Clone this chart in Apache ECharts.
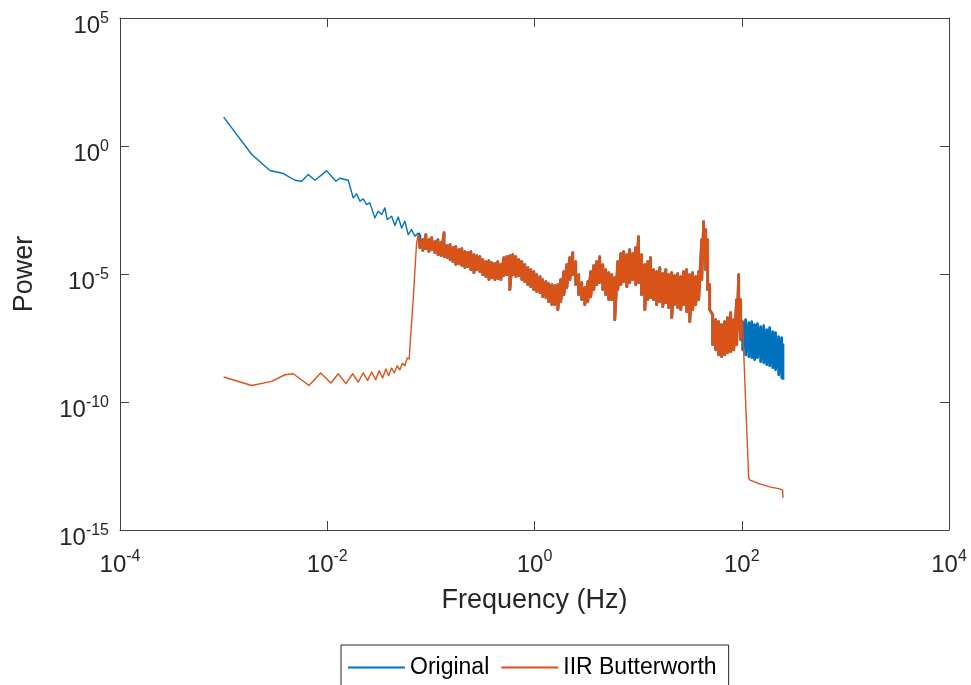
<!DOCTYPE html>
<html><head><meta charset="utf-8">
<script src="https://cdn.jsdelivr.net/npm/echarts@6/dist/echarts.min.js"></script>
<style>html,body{margin:0;padding:0;background:#fff}#c{width:971px;height:685px}</style>
</head><body><div id="c"></div>
<script>
const seriesNames = ['Original', 'IIR Butterworth'];
const xTitle = 'Frequency (Hz)';
const yTitle = 'Power';

// Original signal, low-frequency part (Hz, power)
const origLowFreq = [0.001, 0.00187, 0.0028, 0.00377, 0.00488, 0.00566, 0.00656, 0.0076, 0.00987, 0.01213, 0.01326, 0.01594, 0.0178, 0.0192, 0.0207, 0.0222, 0.024, 0.0258, 0.0288, 0.031, 0.0335, 0.036, 0.0379, 0.0418, 0.045, 0.0484, 0.0522, 0.0561, 0.0604, 0.0651, 0.0701, 0.0754];
const origLowPower = [13.4, 0.465, 0.11, 0.084, 0.046, 0.042, 0.0769, 0.046, 0.107, 0.042, 0.055, 0.046, 0.00944, 0.0135, 0.00695, 0.0086, 0.00516, 0.006, 0.00156, 0.00282, 0.0021, 0.00384, 0.00134, 0.0018, 0.00078, 0.0017, 0.00063, 0.00115, 0.000347, 0.000543, 0.000297, 0.000404];

// Filtered signal, stop band below cutoff
const filtLowFreq = [0.001, 0.00187, 0.00291, 0.00391, 0.0047, 0.00667, 0.00864, 0.01086, 0.01277, 0.01514, 0.01758, 0.0199, 0.0222, 0.0245, 0.0268, 0.0293, 0.0317, 0.0342, 0.0368, 0.0391, 0.0418, 0.0443, 0.0473, 0.0502, 0.0533, 0.0561, 0.0591, 0.0618, 0.0627, 0.0675, 0.0728, 0.0754];
const filtLowPower = [9.5e-10, 4.4e-10, 6.4e-10, 1.16e-9, 1.27e-9, 4.4e-10, 1.36e-9, 5.5e-10, 1.27e-9, 5.2e-10, 1.27e-9, 6.0e-10, 1.36e-9, 7.0e-10, 1.48e-9, 7.4e-10, 1.67e-9, 8.6e-10, 1.94e-9, 1.06e-9, 2.12e-9, 1.36e-9, 2.6e-9, 1.82e-9, 3.3e-9, 2.6e-9, 5.2e-9, 4.8e-9, 1.29e-8, 1.0e-6, 1.64e-4, 3.2e-4];

// Pass band (shared), noisy: upper / lower envelope
const bandFreq = [0.0783, 0.0837, 0.0895, 0.0956, 0.102, 0.109, 0.117, 0.125, 0.134, 0.143, 0.153, 0.163, 0.174, 0.186, 0.199, 0.213, 0.227, 0.243, 0.260, 0.278, 0.297, 0.317, 0.339, 0.363, 0.388, 0.414, 0.443, 0.473, 0.506, 0.541, 0.578, 0.618, 0.660, 0.706, 0.754, 0.806, 0.862, 0.921, 0.985, 1.05, 1.13, 1.20, 1.29, 1.37, 1.47, 1.57, 1.68, 1.79, 1.92, 2.05, 2.19, 2.34, 2.50, 2.67, 2.86, 3.06, 3.27, 3.49, 3.73, 3.99, 4.26, 4.56, 4.87, 5.21, 5.57, 5.95, 6.36, 6.80, 7.26, 7.77, 8.30, 8.87, 9.48, 10.1, 10.8, 11.6, 12.4, 13.2, 14.1, 15.1, 16.2, 17.3, 18.5, 19.7, 21.1, 22.5, 24.1, 25.8, 27.5, 29.4, 31.5, 33.6, 35.9, 38.4, 41.1, 42.9, 44.9, 46.9, 49.0, 52.4, 56.0, 59.9, 64.0, 68.4, 73.1, 78.2, 83.6, 89.3, 93.4, 97.6];
const bandUpper = [3.17e-4, 2.21e-4, 3.46e-4, 2.21e-4, 2.64e-4, 1.84e-4, 2.21e-4, 1.69e-4, 4.15e-4, 1.29e-4, 1.41e-4, 1.07e-4, 1.18e-4, 8.97e-5, 9.8e-5, 7.5e-5, 6.85e-5, 7.5e-5, 5.72e-5, 5.23e-5, 4.78e-5, 3.65e-5, 3.05e-5, 3.33e-5, 2.78e-5, 2.54e-5, 3.05e-5, 2.33e-5, 4.37e-5, 4.78e-5, 5.23e-5, 5.72e-5, 4.78e-5, 3.65e-5, 3.05e-5, 2.33e-5, 1.78e-5, 1.48e-5, 1.24e-5, 9.45e-6, 7.9e-6, 6.03e-6, 5.03e-6, 4.2e-6, 3.84e-6, 3.51e-6, 3.84e-6, 6.03e-6, 1.24e-5, 2.33e-5, 4.37e-5, 6.85e-5, 3.05e-5, 9.45e-6, 4.6e-6, 2.93e-6, 5.03e-6, 1.24e-5, 2.13e-5, 3.05e-5, 4.78e-5, 2.33e-5, 1.48e-5, 1.13e-5, 9.45e-6, 7.2e-6, 3.05e-5, 6.26e-5, 7.5e-5, 5.72e-5, 8.97e-5, 6.26e-5, 1.07e-4, 2.89e-4, 5.72e-5, 2.33e-5, 3.05e-5, 4.37e-5, 1.48e-5, 1.24e-5, 1.78e-5, 1.03e-5, 1.48e-5, 9.45e-6, 1.13e-5, 8.64e-6, 1.03e-5, 7.9e-6, 1.24e-5, 1.48e-5, 9.45e-6, 1.13e-5, 7.9e-6, 1.24e-5, 2.21e-4, 1.12e-3, 5.43e-4, 2.21e-4, 3.84e-6, 2.58e-7, 1.64e-7, 1.37e-7, 1.05e-7, 1.37e-7, 1.97e-7, 3.09e-7, 1.64e-7, 9.95e-7, 9.45e-6, 9.95e-7];
const bandLower = [1.07e-4, 8.2e-5, 9.8e-5, 7.5e-5, 8.97e-5, 6.85e-5, 5.72e-5, 5.23e-5, 4.78e-5, 4.37e-5, 3.65e-5, 3.05e-5, 2.33e-5, 2.54e-5, 2.13e-5, 1.78e-5, 1.94e-5, 1.48e-5, 1.13e-5, 1.48e-5, 1.24e-5, 9.45e-6, 7.9e-6, 6.03e-6, 7.2e-6, 6.03e-6, 6.6e-6, 6.03e-6, 8.64e-6, 9.45e-6, 2.45e-6, 9.45e-6, 7.9e-6, 8.64e-6, 6.03e-6, 5.03e-6, 3.84e-6, 3.21e-6, 2.45e-6, 2.05e-6, 1.87e-6, 1.3e-6, 1.19e-6, 8.3e-7, 6.35e-7, 6.35e-7, 4.05e-7, 8.3e-7, 1.56e-6, 2.93e-6, 6.03e-6, 9.45e-6, 3.84e-6, 1.56e-6, 9.95e-7, 6.35e-7, 8.3e-7, 1.3e-6, 2.45e-6, 3.84e-6, 4.6e-6, 2.45e-6, 1.56e-6, 9.95e-7, 9.95e-7, 1.64e-7, 2.45e-6, 3.84e-6, 5.03e-6, 3.21e-6, 4.6e-6, 6.03e-6, 3.84e-6, 4.6e-6, 1.56e-6, 4.05e-7, 9.95e-7, 1.19e-6, 9.95e-7, 6.35e-7, 8.3e-7, 5.3e-7, 7.6e-7, 4.84e-7, 1.97e-7, 6.35e-7, 4.84e-7, 4.05e-7, 6.35e-7, 3.38e-7, 1.37e-7, 4.05e-7, 6.35e-7, 9.95e-7, 6.03e-6, 3.65e-5, 1.48e-5, 2.45e-6, 4.05e-7, 1.73e-8, 1.1e-8, 7.0e-9, 5.9e-9, 7.0e-9, 8.4e-9, 9.2e-9, 1.1e-8, 1.73e-8, 6.7e-8, 2.72e-8];

// Original signal above the filter's upper cutoff
const origHighFreq = [102, 109, 117, 125, 133, 142, 152, 163, 174, 186, 199, 212, 227, 243, 250];
const origHighUpper = [1.37e-7, 1.64e-7, 1.25e-7, 1.37e-7, 1.05e-7, 1.15e-7, 8.8e-8, 9.6e-8, 6.7e-8, 8.0e-8, 5.6e-8, 5.1e-8, 3.56e-8, 3.25e-8, 1.73e-8];
const origHighLower = [1.1e-8, 7.0e-9, 5.9e-9, 5.4e-9, 4.5e-9, 5.4e-9, 3.75e-9, 3.42e-9, 2.86e-9, 2.61e-9, 2.18e-9, 1.82e-9, 1.16e-9, 8.9e-10, 7.4e-10];

// Filtered signal above cutoff
const filtHighFreq = [101.5, 116.6, 119.2, 148.8, 185.8, 232, 248, 250];
const filtHighPower = [1.6e-7, 1.09e-13, 9.1e-14, 6.35e-14, 4.85e-14, 4.05e-14, 3.7e-14, 1.8e-14];

const xMin = 1e-4, xMax = 1e4, yMin = 1e-15, yMax = 1e5;

function pairs(f, p) { return f.map((x, i) => [x, p[i]]); }
function band(f, u, l) { const out = []; f.forEach((x, i) => { out.push([x, u[i]]); out.push([x, l[i]]); }); return out; }

const origLow = pairs(origLowFreq, origLowPower);
const filtLow = pairs(filtLowFreq, filtLowPower);
const passBand = band(bandFreq, bandUpper, bandLower);
const origBand = [origLow[origLow.length - 1]].concat(passBand, band(origHighFreq, origHighUpper, origHighLower));
const filtBand = [filtLow[filtLow.length - 1]].concat(passBand);
const filtTail = [passBand[passBand.length - 1]].concat(pairs(filtHighFreq, filtHighPower));

const FONT = 'Liberation Sans, Arial, Helvetica, sans-serif';
const AX = '#262626';
const lineCol = '#404040';
const BLUE = '#0072BD', ORANGE = '#D95319';
function expLabel(v) { return '{b|10}{s|' + Math.round(Math.log10(v)) + '}'; }
const rich = {
  b: { fontSize: 24, lineHeight: 28, verticalAlign: 'bottom', color: AX, fontFamily: FONT },
  s: { fontSize: 16, verticalAlign: 'top', color: AX, fontFamily: FONT }
};
function baseAxis(extra) {
  return Object.assign({
    type: 'log', logBase: 10,
    axisLine: { show: true, onZero: false, lineStyle: { color: lineCol, width: 1 } },
    axisTick: { show: true, inside: true, length: 9, lineStyle: { color: lineCol, width: 1 } },
    splitLine: { show: false },
    minorTick: { show: false }
  }, extra);
}
function lineSeries(name, data, color, width) {
  return { name: name, type: 'line', data: data, xAxisIndex: 0, yAxisIndex: 0,
    symbol: 'none', showSymbol: false, lineStyle: { color: color, width: width, join: 'round' },
    itemStyle: { color: color } };
}

const chart = echarts.init(document.getElementById('c'), null, { renderer: 'canvas' });
chart.setOption({
  animation: false,
  backgroundColor: '#fff',
  grid: { left: 120, right: 22, top: 18, bottom: 155, containLabel: false },
  legend: {
    data: seriesNames, left: 341, top: 645, orient: 'horizontal', icon: 'rect',
    padding: [11, 12, 30, 7], itemGap: 12, itemWidth: 57, itemHeight: 2,
    borderColor: AX, borderWidth: 1, backgroundColor: '#fff', borderRadius: 0,
    textStyle: { fontSize: 23, color: '#000', fontFamily: FONT }
  },
  xAxis: [
    baseAxis({ min: xMin, max: xMax, interval: 2, position: 'bottom',
      name: xTitle, nameLocation: 'middle', nameGap: 57,
      nameTextStyle: { fontSize: 27, color: AX, fontFamily: FONT },
      axisLabel: { show: true, margin: 19, formatter: expLabel, rich: rich } }),
    baseAxis({ min: xMin, max: xMax, interval: 2, position: 'top', axisLabel: { show: false } })
  ],
  yAxis: [
    baseAxis({ min: yMin, max: yMax, interval: 5, position: 'left',
      name: yTitle, nameLocation: 'middle', nameGap: 82,
      nameTextStyle: { fontSize: 27, color: AX, fontFamily: FONT },
      axisLabel: { show: true, margin: 11, padding: [13, 0, 0, 0], formatter: expLabel, rich: rich } }),
    baseAxis({ min: yMin, max: yMax, interval: 5, position: 'right', axisLabel: { show: false } })
  ],
  series: [
    lineSeries(seriesNames[0], origLow, BLUE, 1.4),
    lineSeries(seriesNames[0], origBand, BLUE, 2.8),
    lineSeries(seriesNames[1], filtLow, ORANGE, 1.4),
    lineSeries(seriesNames[1], filtBand, ORANGE, 2.8),
    lineSeries(seriesNames[1], filtTail, ORANGE, 1.4)
  ]
});
</script></body></html>
